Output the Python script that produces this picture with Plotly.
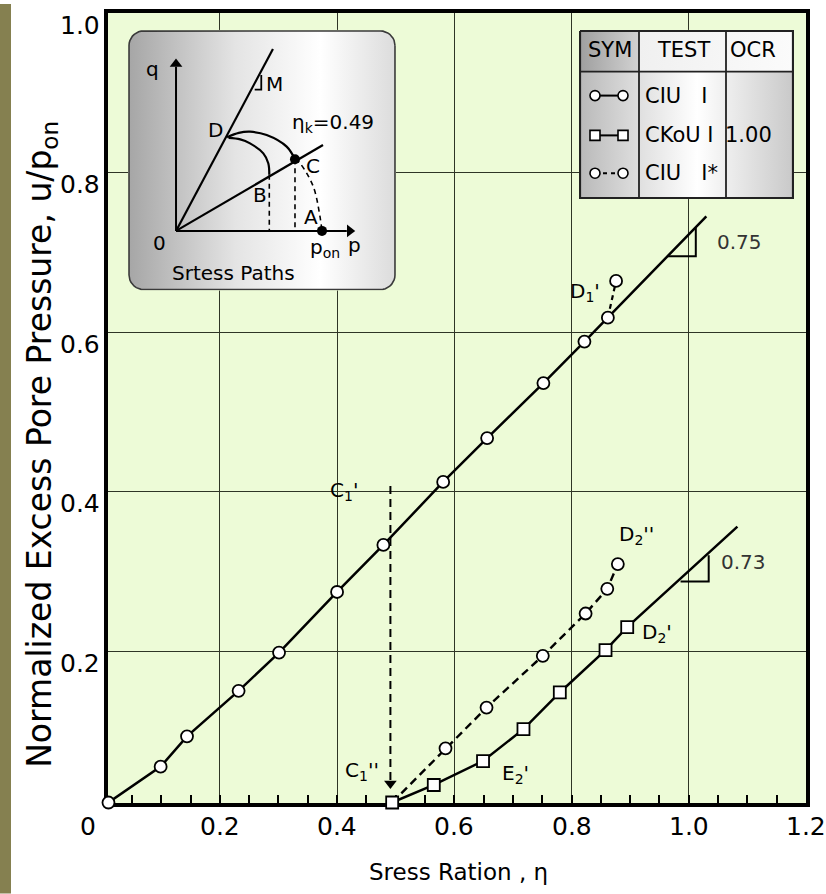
import numpy as np
import plotly.graph_objects as go

FONT = "DejaVu Sans"

# ---------------- data ----------------
# CIU I (open circles, solid line)
ciu_eta = [0.010, 0.099, 0.144, 0.232, 0.301, 0.400, 0.479, 0.581, 0.656, 0.752, 0.822, 0.862]
ciu_u = [0.010, 0.055, 0.093, 0.150, 0.198, 0.274, 0.333, 0.412, 0.467, 0.536, 0.588, 0.618]
ciu_fit_eta = [0.862, 1.030]
ciu_fit_u = [0.618, 0.745]
ciu_fail_eta = [0.862, 0.876]
ciu_fail_u = [0.618, 0.664]

# CKoU I (open squares, solid line)
ckou_eta = [0.494, 0.565, 0.649, 0.718, 0.780, 0.858, 0.895]
ckou_u = [0.010, 0.032, 0.062, 0.102, 0.148, 0.201, 0.230]
ckou_fit_eta = [0.895, 1.083]
ckou_fit_u = [0.230, 0.356]

# CIU I* (open circles, dashed line starting at C1'')
ciu2_eta = [0.585, 0.655, 0.751, 0.824, 0.861, 0.879]
ciu2_u = [0.078, 0.129, 0.194, 0.247, 0.278, 0.309]
ciu2_start_eta = [0.494]
ciu2_start_u = [0.010]

# dashed drop C1' -> C1''
drop_eta = [0.491, 0.491]
drop_u = [0.407, 0.030]
drop_head_u = [0.034]

# slope triangles
tri75_eta = [0.964, 1.012, 1.012]
tri75_u = [0.695, 0.695, 0.731]
tri73_eta = [0.986, 1.034, 1.034]
tri73_u = [0.287, 0.287, 0.320]
slope_text = ["0.75", "0.73"]
slope_eta = [1.087, 1.093]
slope_u = [0.713, 0.311]

# point labels
lab_text = ["C<sub>1</sub>'", "C<sub>1</sub>''", "D<sub>1</sub>'", "D<sub>2</sub>''", "D<sub>2</sub>'", "E<sub>2</sub>'"]
lab_eta = [0.411, 0.442, 0.823, 0.910, 0.945, 0.704]
lab_u = [0.401, 0.049, 0.650, 0.345, 0.222, 0.046]

# ticks
x_ticks = [0.2, 0.4, 0.6, 0.8, 1.0, 1.2]
x_tick_text = ["0.2", "0.4", "0.6", "0.8", "1.0", "1.2"]
y_ticks = [0.2, 0.4, 0.6, 0.8, 1.0]
y_tick_text = ["0.2", "0.4", "0.6", "0.8", "1.0"]

# inset (stress paths) in p/p_on , q/p_on units
m_line_p = [0.0, 0.664]
m_line_q = [0.0, 1.253]
k_line_p = [0.0, 1.007]
k_line_q = [0.0, 0.591]
outer_p = [0.350, 0.430, 0.507, 0.621, 0.758, 0.815]
outer_q = [0.645, 0.675, 0.683, 0.660, 0.580, 0.493]
inner_p = [0.360, 0.440, 0.507, 0.598, 0.632, 0.639]
inner_q = [0.640, 0.630, 0.603, 0.534, 0.466, 0.386]
ca_p = [0.815, 0.849, 0.940, 0.986, 1.000]
ca_q = [0.493, 0.466, 0.306, 0.100, 0.000]
pts_p = [0.815, 1.000]   # C, A
pts_q = [0.493, 0.000]

fig = go.Figure()


def line(x, y, xa="x", ya="y", width=2.4, dash="solid", color="black", shape="linear"):
    fig.add_trace(go.Scatter(x=x, y=y, mode="lines", xaxis=xa, yaxis=ya,
                             line=dict(color=color, width=width, dash=dash, shape=shape),
                             hoverinfo="skip", showlegend=False, cliponaxis=False))


def marks(x, y, symbol, size=12, xa="x", ya="y", fill="white", lw=1.8):
    fig.add_trace(go.Scatter(x=x, y=y, mode="markers", xaxis=xa, yaxis=ya,
                             marker=dict(symbol=symbol, size=size, color=fill,
                                         line=dict(color="black", width=lw)),
                             hoverinfo="skip", showlegend=False, cliponaxis=False))


# ---------------- main chart ----------------
line(ciu_eta + ciu_fit_eta[1:], ciu_u + ciu_fit_u[1:], width=2.5)
line(ciu_fail_eta, ciu_fail_u, dash="5px,4px", width=2.2)
line(ckou_eta + ckou_fit_eta[1:], ckou_u + ckou_fit_u[1:], width=2.5)
line(ciu2_start_eta + ciu2_eta, ciu2_start_u + ciu2_u, dash="8px,5px", width=2.4)
line(drop_eta, drop_u, dash="8px,5px", width=2.0)
line(tri75_eta, tri75_u, width=2.0)
line(tri73_eta, tri73_u, width=2.0)

marks(ciu_eta + ciu_fail_eta[1:], ciu_u + ciu_fail_u[1:], "circle")
marks(ciu2_eta, ciu2_u, "circle")
marks(ckou_eta, ckou_u, "square")
marks(drop_eta[1:], drop_head_u, "triangle-down", size=11, fill="black", lw=0)

# ---------------- inset ----------------
P0, P1, Q0, Q1, R = -0.322, 1.500, -0.404, 1.377, 0.10


def rounded(x0, x1, y0, y1, r, n=10):
    xs, ys = [], []
    for cx, cy, a0 in [(x1 - r, y1 - r, 0), (x0 + r, y1 - r, 90), (x0 + r, y0 + r, 180), (x1 - r, y0 + r, 270)]:
        for a in np.linspace(np.radians(a0), np.radians(a0 + 90), n):
            xs.append(cx + r * np.cos(a))
            ys.append(cy + r * np.sin(a))
    xs.append(xs[0])
    ys.append(ys[0])
    return xs, ys


bx, by = rounded(P0, P1, Q0, Q1, R)
fig.add_trace(go.Scatter(x=bx, y=by, mode="lines", fill="toself", xaxis="x2", yaxis="y2",
                         fillgradient=dict(type="horizontal",
                                           colorscale=[[0, "#a6a6a6"], [0.4, "#e4e4e4"],
                                                       [0.72, "#ffffff"], [1, "#dcdcdc"]]),
                         line=dict(color="#3a3a3a", width=1.6), hoverinfo="skip",
                         showlegend=False))
line([0, 0], [0, 1.13], "x2", "y2", width=2.0)
marks([0], [1.15], "triangle-up", size=11, xa="x2", ya="y2", fill="black", lw=0)
line([0, 1.17], [0, 0], "x2", "y2", width=2.0)
marks([1.19], [0], "triangle-right", size=11, xa="x2", ya="y2", fill="black", lw=0)
line(m_line_p, m_line_q, "x2", "y2", width=2.2)
line(k_line_p, k_line_q, "x2", "y2", width=2.2)
line([0.539, 0.584, 0.584], [0.973, 0.973, 1.073], "x2", "y2", width=1.8)
line(outer_p, outer_q, "x2", "y2", width=2.2, shape="spline")
line(inner_p, inner_q, "x2", "y2", width=2.2, shape="spline")
line([inner_p[-1], inner_p[-1]], [inner_q[-1], 0], "x2", "y2", width=1.6, dash="5px,4px")
line([pts_p[0], pts_p[0]], [pts_q[0], 0], "x2", "y2", width=1.6, dash="5px,4px")
line(ca_p, ca_q, "x2", "y2", width=1.6, dash="5px,4px", shape="spline")
marks(pts_p, pts_q, "circle", size=10, xa="x2", ya="y2", fill="black", lw=0)

# ---------------- legend table ----------------
W, H, HH, C1, C2 = 213, 168, 41, 59, 146


def rect(x0, x1, y0, y1):
    return [x0, x1, x1, x0, x0], [y0, y0, y1, y1, y0]


for (x0, x1, y0, y1), cs in [((0, W, HH, H), [[0, "#b9b9b9"], [0.3, "#e2e2e2"], [0.55, "#ffffff"], [1, "#c9c9c9"]]),
                             ((0, C1, 0, HH), [[0, "#9f9f9f"], [1, "#d2d2d2"]]),
                             ((C1, W, 0, HH), [[0, "#f0f0f0"], [1, "#fbfbfb"]])]:
    rx, ry = rect(x0, x1, y0, y1)
    fig.add_trace(go.Scatter(x=rx, y=ry, mode="lines", fill="toself", xaxis="x3", yaxis="y3",
                             fillgradient=dict(type="horizontal", colorscale=cs),
                             line=dict(width=0), hoverinfo="skip", showlegend=False))
rx, ry = rect(0, W, 0, H)
line(rx, ry, "x3", "y3", width=2.2, color="#222222")
line([C1, C1], [0, H], "x3", "y3", width=1.8, color="#222222")
line([C2, C2], [0, H], "x3", "y3", width=1.8, color="#222222")
line([0, W], [HH, HH], "x3", "y3", width=1.8, color="#222222")
rows_v = [65, 105, 143]
line([15, 43], [rows_v[0]] * 2, "x3", "y3", width=2.0)
marks([15, 43], [rows_v[0]] * 2, "circle", size=10, xa="x3", ya="y3", lw=1.6)
line([15, 43], [rows_v[1]] * 2, "x3", "y3", width=2.0)
marks([15, 43], [rows_v[1]] * 2, "square", size=10, xa="x3", ya="y3", lw=1.6)
line([15, 43], [rows_v[2]] * 2, "x3", "y3", width=2.0, dash="4px,4px")
marks([15, 43], [rows_v[2]] * 2, "circle", size=10, xa="x3", ya="y3", lw=1.6)

# ---------------- annotations ----------------
ann = []


def text(t, x, y, xref="x", yref="y", size=20, xanchor="center", yanchor="middle",
         color="black", angle=0, yshift=0):
    ann.append(dict(text=t, x=x, y=y, xref=xref, yref=yref, showarrow=False,
                    font=dict(family=FONT, size=size, color=color), xanchor=xanchor,
                    yanchor=yanchor, textangle=angle, yshift=yshift))


# plot area geometry (px)
L, RM, T, B = 108, 20, 9, 91
PW, PH = 826 - L - RM, 894 - T - B


def pxx(px):
    return (px - L) / PW


def pxy(py):
    return (894 - B - py) / PH


for v, t in zip(x_ticks, x_tick_text):
    text(t, v, pxy(827), "x", "paper", size=25)
for v, t in zip(y_ticks, y_tick_text):
    text(t, pxx(102), v, "paper", "y", size=25, xanchor="right", yshift=-12)
text("0", pxx(88), pxy(827), "paper", "paper", size=25)
text("Sress Ration , η", pxx(458), pxy(872), "paper", "paper", size=23)
text("Normalized Excess Pore Pressure, u/p<sub>on</sub>", pxx(42), pxy(443), "paper", "paper",
     size=33, angle=-90)

for t, x, y in zip(lab_text, lab_eta, lab_u):
    text(t, x, y, size=20)
for t, x, y in zip(slope_text, slope_eta, slope_u):
    text(t, x, y, size=20, color="#333333")

# inset text
for t, x, y, xa in [("q", -0.158, 1.116, "center"), ("M", 0.678, 1.014, "center"),
                    ("D", 0.267, 0.692, "center"), ("η<sub>k</sub>=0.49", 1.075, 0.74, "center"),
                    ("C", 0.938, 0.445, "center"), ("B", 0.575, 0.247, "center"),
                    ("A", 0.925, 0.096, "center"), ("0", -0.11, -0.082, "center"),
                    ("p<sub>on</sub>", 1.02, -0.12, "center"), ("p", 1.22, -0.10, "center"),
                    ("Srtess Paths", -0.04, -0.288, "left")]:
    text(t, x, y, "x2", "y2", size=20, xanchor=xa)

# legend text
for t, u, v, xa in [("SYM", 29.5, 19, "center"), ("TEST", 103, 19, "center"), ("OCR", 173, 19, "center"),
                    ("CIU   I", 63, rows_v[0], "left"), ("CKoU I", 63, rows_v[1], "left"),
                    ("CIU   I*", 63, rows_v[2], "left"), ("1.00", 168, rows_v[1], "center")]:
    text(t, u, v, "x3", "y3", size=21, xanchor=xa)

GRID = "#2f3526"
fig.update_layout(
    width=826, height=894,
    margin=dict(l=L, r=RM, t=T, b=B),
    paper_bgcolor="white", plot_bgcolor="#edfbd7",
    font=dict(family=FONT, color="black"),
    annotations=ann,
    xaxis=dict(range=[0.0092, 1.2], showgrid=True, gridcolor=GRID, gridwidth=1.4, dtick=0.2, tick0=0,
               showticklabels=False, ticks="inside", ticklen=8, tickcolor="black", tickwidth=1.6,
               minor=dict(dtick=0.05, tick0=0, ticks="inside", ticklen=8, tickcolor="black",
                          tickwidth=1.6, showgrid=False),
               showline=True, linecolor="black", linewidth=3.5, mirror=True, zeroline=False,
               layer="below traces"),
    yaxis=dict(range=[0.0094, 1.0], showgrid=True, gridcolor=GRID, gridwidth=1.4, dtick=0.2, tick0=0,
               showticklabels=False, ticks="",
               showline=True, linecolor="black", linewidth=3.5, mirror=True, zeroline=False,
               layer="below traces"),
    xaxis2=dict(domain=[pxx(128), pxx(396)], range=[P0 - 0.007, P1 + 0.007], visible=False,
                anchor="y2"),
    yaxis2=dict(domain=[pxy(288), pxy(26)], range=[Q0 - 0.007, Q1 + 0.007], visible=False,
                anchor="x2"),
    xaxis3=dict(domain=[pxx(579), pxx(794)], range=[-1, 214], visible=False, anchor="y3"),
    yaxis3=dict(domain=[pxy(196), pxy(26)], range=[169, -1], visible=False, anchor="x3"),
    shapes=[dict(type="rect", xref="paper", yref="paper", x0=pxx(0), x1=pxx(11),
                 y0=pxy(894), y1=pxy(0), fillcolor="#858050", line=dict(width=0))],
)

fig.write_html("out.html")
